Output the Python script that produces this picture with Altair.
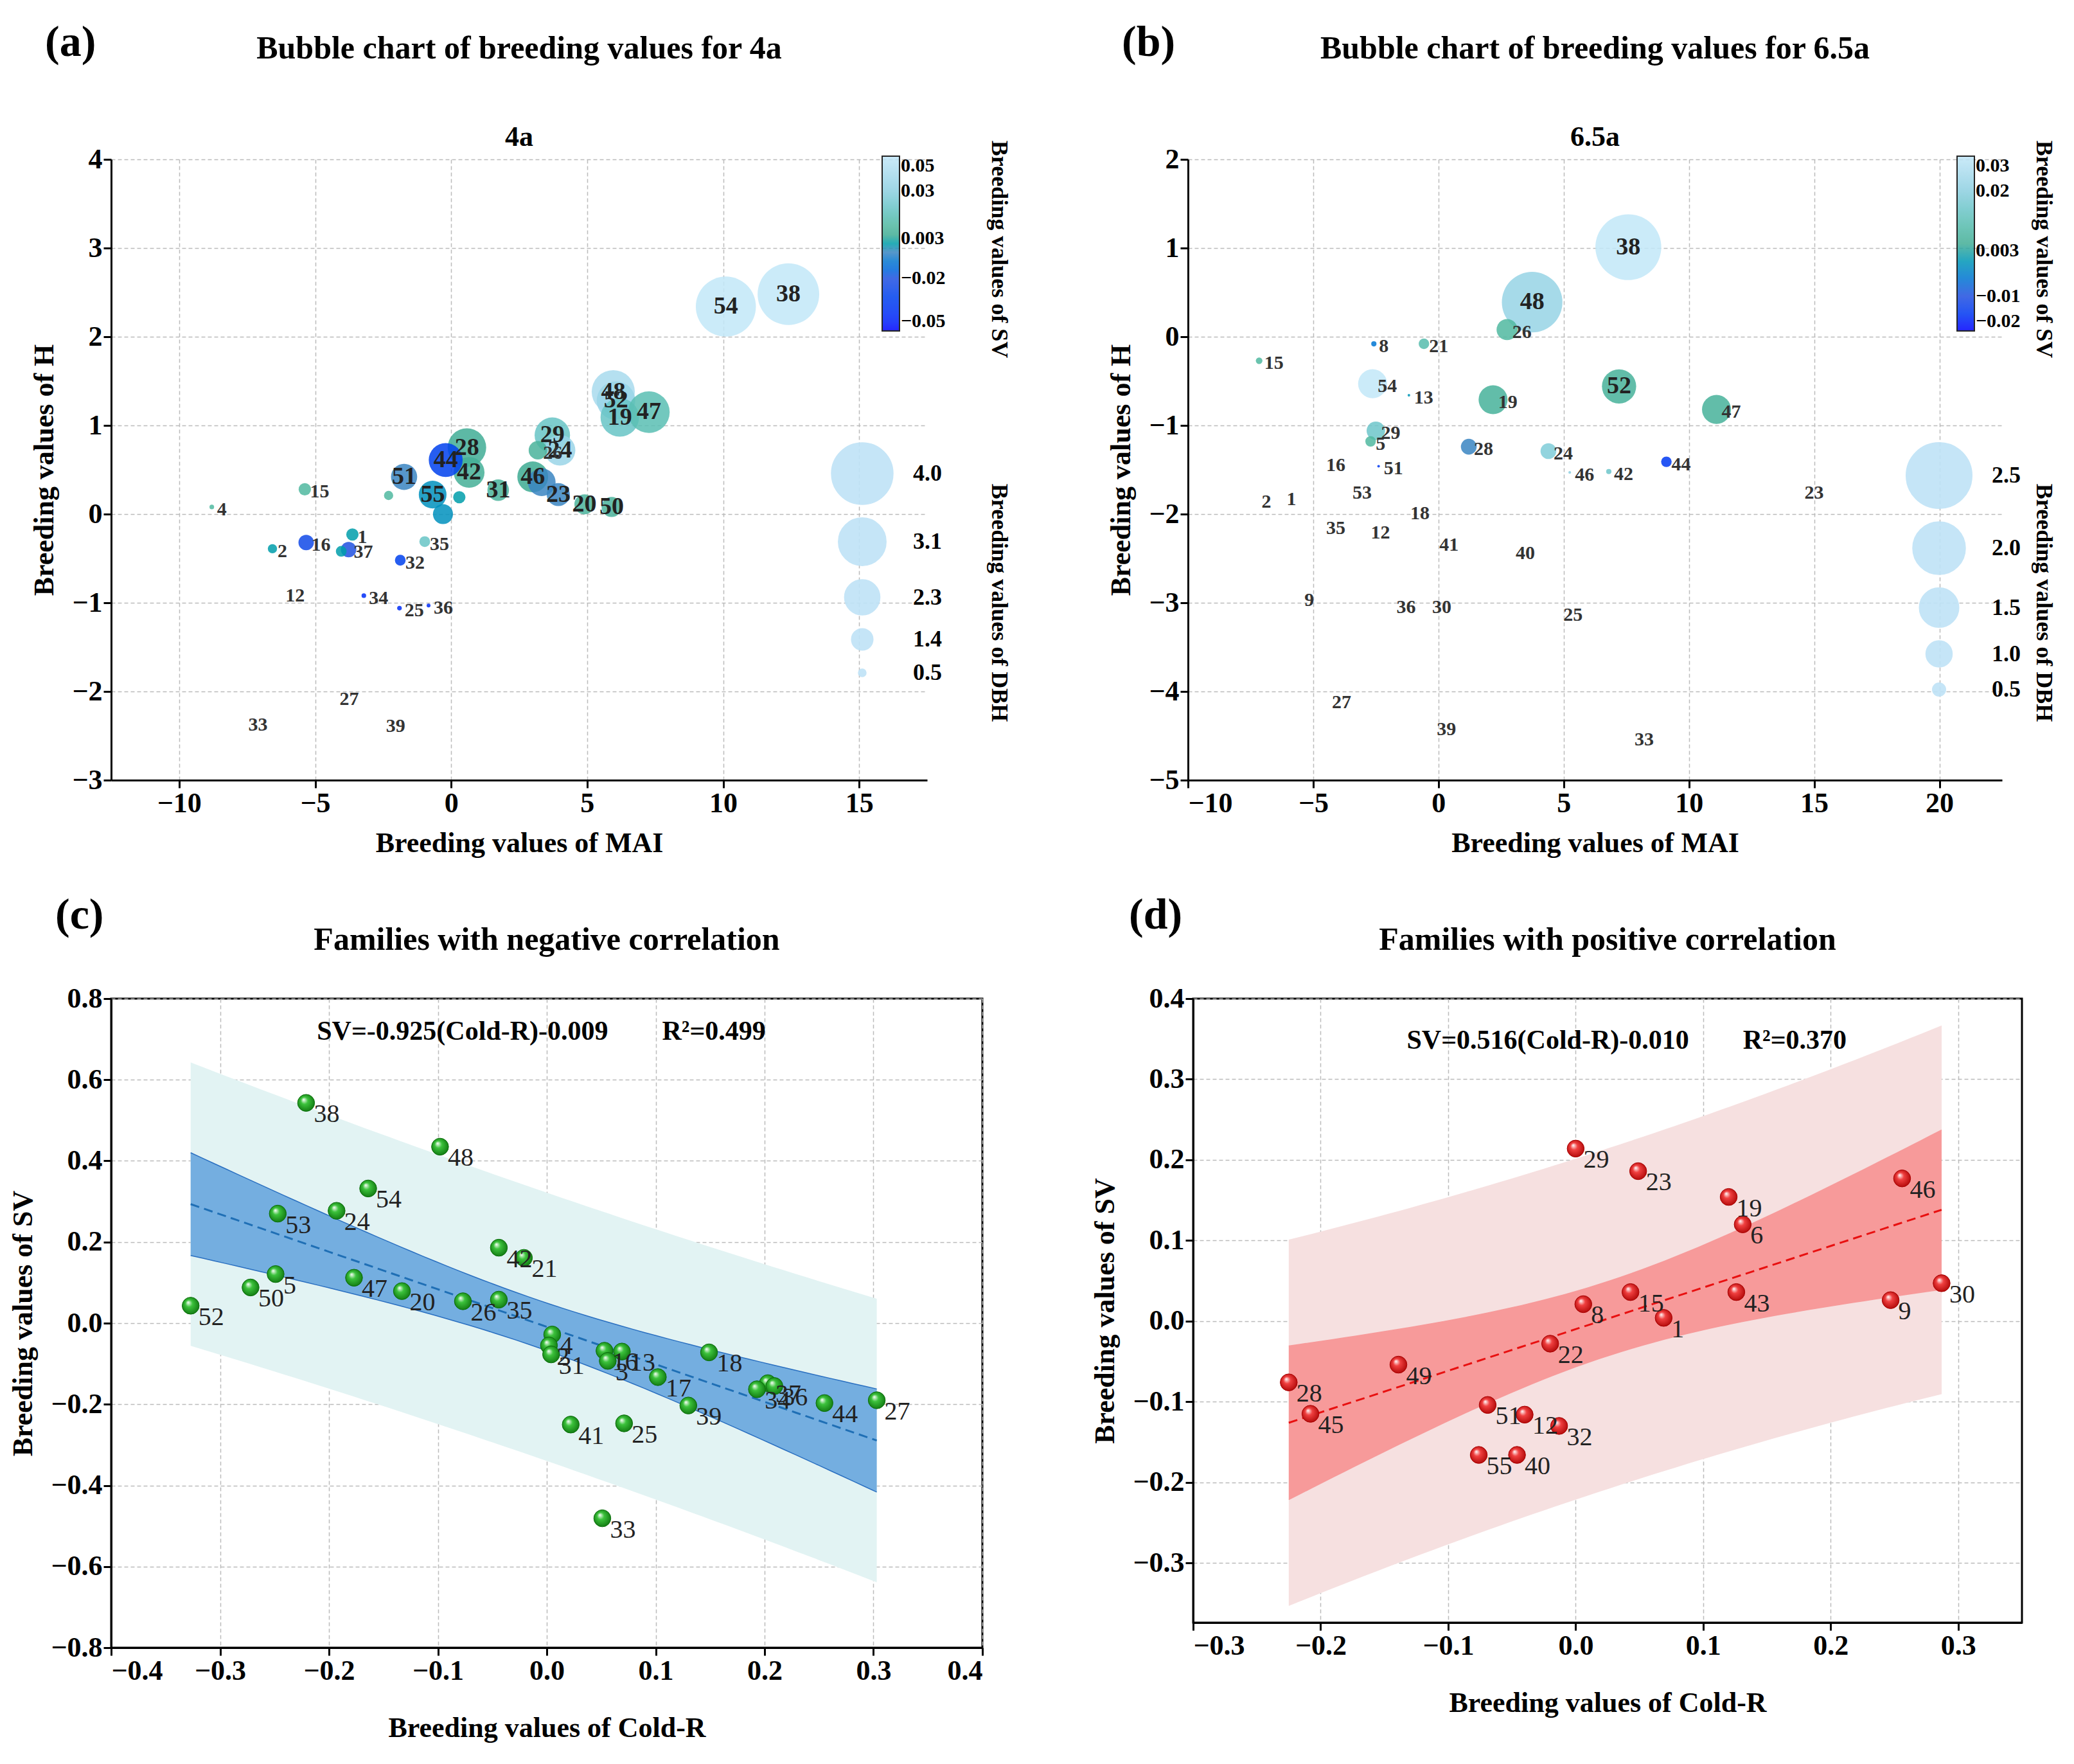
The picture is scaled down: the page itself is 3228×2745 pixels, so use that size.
import altair as alt
import pandas as pd
import numpy as np

FONT = "Liberation Serif"

# ---- (a) 4a bubble data ----
a_lab = ["54", "38", "48", "52", "19", "47", "29", "24", "26", "28", "42", "44", "51", "55", "", "", "",
         "31", "46", "", "23", "20", "50", "15", "4", "1", "35", "2", "16", "37", "", "32", "34", "25", "36",
         "12", "27", "33", "39"]
a_mai = [10.1, 12.4, 5.96, 6.06, 6.2, 7.27, 3.72, 4.0, 3.19, 0.58, 0.66, -0.2, -1.73, -0.68, -0.3, 0.3, -2.3,
         1.73, 3.0, 3.33, 3.94, 4.9, 5.9, -5.38, -8.8, -3.63, -0.97, -6.57, -5.33, -3.77, -4.04, -1.87, -3.21, -1.9, -0.83,
         -5.74, -3.75, -7.1, -2.04]
a_h = [2.34, 2.48, 1.38, 1.28, 1.09, 1.15, 0.89, 0.72, 0.72, 0.75, 0.47, 0.61, 0.42, 0.22, 0.0, 0.19, 0.21,
       0.27, 0.42, 0.36, 0.22, 0.11, 0.08, 0.28, 0.08, -0.23, -0.31, -0.39, -0.32, -0.4, -0.42, -0.52, -0.92, -1.06, -1.03,
       -0.92, -2.09, -2.38, -2.39]
a_dbh = [3.9, 4.0, 2.8, 2.5, 2.5, 2.7, 2.3, 2.0, 1.2, 2.5, 2.0, 2.2, 1.7, 1.8, 1.3, 0.8, 0.6,
         1.4, 2.0, 1.8, 1.5, 1.3, 1.3, 0.8, 0.3, 0.8, 0.7, 0.6, 1.0, 1.0, 0.7, 0.7, 0.3, 0.3, 0.25,
         0, 0, 0, 0]
a_sv = [0.05, 0.05, 0.04, 0.035, 0.02, 0.015, 0.02, 0.035, 0.008, 0.005, 0.006, -0.03, -0.005, -0.003, -0.003, 0.0, 0.01,
        0.008, 0.004, -0.005, -0.005, 0.008, 0.008, 0.01, 0.01, 0.0, 0.02, 0.0, -0.025, -0.02, 0.0, -0.03, -0.04, -0.04, -0.04,
        0, 0, 0, 0]

# ---- (b) 6.5a bubble data ----
b_lab = ["38", "48", "26", "8", "21", "15", "54", "13", "19", "52", "47", "29", "5", "28", "24", "44", "51",
         "46", "42", "16", "23", "2", "1", "53", "18", "35", "12", "41", "40", "9", "36", "30", "25", "27", "39", "33"]
b_mai = [7.58, 3.74, 2.74, -2.58, -0.58, -7.16, -2.63, -1.18, 2.18, 7.21, 11.1, -2.5, -2.71, 1.21, 4.39, 9.1, -2.39,
         5.24, 6.8, -4.1, 15.0, -6.87, -5.87, -3.05, -0.74, -4.1, -2.32, 0.42, 3.47, -5.16, -1.29, 0.13, 5.37, -3.87, 0.32, 8.21]
b_h = [1.01, 0.39, 0.08, -0.08, -0.08, -0.27, -0.53, -0.66, -0.71, -0.56, -0.82, -1.06, -1.18, -1.24, -1.29, -1.41, -1.46,
       -1.53, -1.52, -1.45, -1.76, -1.86, -1.83, -1.76, -1.99, -2.16, -2.21, -2.35, -2.44, -2.97, -3.05, -3.05, -3.14, -4.12, -4.43, -4.54]
b_dbh = [2.5, 2.3, 0.8, 0.2, 0.4, 0.25, 1.1, 0.1, 1.1, 1.3, 1.1, 0.7, 0.4, 0.6, 0.6, 0.4, 0.1,
         0.1, 0.2, 0, 0, 0, 0, 0, 0, 0, 0, 0, 0, 0, 0, 0, 0, 0, 0, 0]
b_sv = [0.03, 0.022, 0.008, -0.005, 0.01, 0.008, 0.03, 0.0, 0.006, 0.006, 0.006, 0.015, 0.008, -0.002, 0.018, -0.015, -0.015,
        0.02, 0.015, 0, 0, 0, 0, 0, 0, 0, 0, 0, 0, 0, 0, 0, 0, 0, 0, 0]

# ---- (c) negative correlation ----
c_lab = ["38", "48", "54", "53", "24", "42", "21", "5", "50", "52", "47", "20", "26", "35", "4", "2", "31", "16",
         "3", "13", "17", "18", "37", "36", "34", "39", "44", "27", "41", "25", "33"]
c_x = [-0.221, -0.098, -0.164, -0.247, -0.193, -0.044, -0.021, -0.249, -0.272, -0.327, -0.177, -0.133, -0.077, -0.044,
       0.005, 0.002, 0.004, 0.053, 0.056, 0.069, 0.102, 0.149, 0.203, 0.209, 0.193, 0.13, 0.255, 0.303, 0.022, 0.071, 0.051]
c_y = [0.543, 0.435, 0.332, 0.27, 0.277, 0.186, 0.161, 0.121, 0.088, 0.043, 0.112, 0.079, 0.054, 0.058,
       -0.028, -0.055, -0.077, -0.068, -0.093, -0.07, -0.133, -0.072, -0.148, -0.155, -0.163, -0.203, -0.197, -0.19, -0.25, -0.247, -0.481]

# ---- (d) positive correlation ----
d_lab = ["29", "23", "19", "6", "46", "30", "9", "43", "15", "8", "1", "22", "49", "28", "45", "51", "12", "32", "55", "40"]
d_x = [0.0, 0.049, 0.12, 0.131, 0.256, 0.287, 0.247, 0.126, 0.043, 0.006, 0.069, -0.02, -0.139, -0.225, -0.208,
       -0.069, -0.04, -0.013, -0.076, -0.046]
d_y = [0.214, 0.186, 0.154, 0.12, 0.177, 0.047, 0.026, 0.036, 0.036, 0.021, 0.004, -0.028, -0.054, -0.076, -0.115,
       -0.104, -0.116, -0.13, -0.166, -0.166]


def header(W, letter, lx, ly, title, ty, sub=None, sy=0):
    rows = [{"t": letter, "x": lx, "y": ly, "s": 68, "a": "left", "b": "top"},
            {"t": title, "x": W / 2, "y": ty, "s": 50, "a": "center", "b": "middle"}]
    if sub:
        rows.append({"t": sub, "x": W / 2, "y": sy, "s": 44, "a": "center", "b": "middle"})
    out = []
    for r in rows:
        out.append(alt.Chart(pd.DataFrame({"t": [r["t"]]})).mark_text(
            font=FONT, fontWeight="bold", fontSize=r["s"], align=r["a"], baseline=r["b"], color="black"
        ).encode(x=alt.value(r["x"]), y=alt.value(r["y"]), text="t:N"))
    return out


def bubble(lab, mx, hh, dbh, sv, title, sub, letter, xdom, ydom, xt, yt,
           cdom, crange, cvals, sdom, smax, svals, W, side_dx):
    df = pd.DataFrame({"lab": lab, "MAI": mx, "H": hh, "DBH": dbh, "SV": sv})
    H = 966
    x = alt.X("MAI:Q", scale=alt.Scale(domain=xdom, nice=False),
              axis=alt.Axis(values=xt, title="Breeding values of MAI", titlePadding=18))
    y = alt.Y("H:Q", scale=alt.Scale(domain=ydom, nice=False),
              axis=alt.Axis(values=yt, title="Breeding values of  H", titlePadding=20))
    pts = alt.Chart(df).transform_filter("datum.DBH > 0").mark_circle(opacity=0.85).encode(
        x=x, y=y,
        size=alt.Size("DBH:Q", scale=alt.Scale(type="pow", exponent=2, domain=sdom, range=[0, smax]),
                      legend=alt.Legend(values=svals, orient="none", legendX=W - 150, legendY=440, title=None,
                                        symbolFillColor="#bfe3f7", symbolStrokeColor="#bfe3f7", symbolOpacity=0.9,
                                        labelFontSize=36, labelFont=FONT, labelFontWeight="bold", labelOffset=30,
                                        rowPadding=14, symbolType="circle", format=".1f")),
        color=alt.Color("SV:Q", scale=alt.Scale(domain=cdom, range=crange),
                        legend=alt.Legend(values=cvals, orient="none", legendX=W - 70, legendY=-5, title=None,
                                          gradientLength=272, gradientThickness=27, direction="vertical",
                                          labelFontSize=30, labelFont=FONT, labelFontWeight="bold",
                                          gradientStrokeColor="black", gradientStrokeWidth=2, format=".3~f")),
    )
    big = alt.Chart(df).transform_filter("datum.DBH >= 1.3").mark_text(
        font=FONT, fontWeight="bold", fontSize=38, color="#222").encode(x=x, y=y, text="lab:N")
    small = alt.Chart(df).transform_filter("datum.DBH < 1.3 && datum.DBH > 0").mark_text(
        font=FONT, fontWeight="bold", fontSize=30, color="#333", align="left", dx=8, dy=4).encode(x=x, y=y, text="lab:N")
    none = alt.Chart(df).transform_filter("datum.DBH == 0").mark_text(
        font=FONT, fontWeight="bold", fontSize=30, color="#333").encode(x=x, y=y, text="lab:N")
    ttl = pd.DataFrame({"t": ["Breeding values of SV", "Breeding values of DBH"], "y": [140, 690]})
    side = alt.Chart(ttl).mark_text(font=FONT, fontWeight="bold", fontSize=36, angle=90).encode(
        x=alt.value(W + side_dx), y=alt.Y("y:Q", scale=None), text="t:N")
    heads = header(W, letter, -103, -215, title, -172, sub, -34)
    return alt.layer(pts, big, small, none, side, *heads).properties(width=W, height=H)


def regress(lab, xs, ys, slope, icpt, r2, tcrit, title, letter, xdom, ydom, xt, yt, W, H,
            pcol, lcol, inner, outer, eqx, eqy, edge, lx):
    xs = np.array(xs)
    ys = np.array(ys)
    n = len(xs)
    res = ys - (slope * xs + icpt)
    s = np.sqrt((res ** 2).sum() / (n - 2))
    xbar = xs.mean()
    sxx = ((xs - xbar) ** 2).sum()
    gx = np.linspace(xs.min(), xs.max(), 60)
    fit = slope * gx + icpt
    ch = tcrit * s * np.sqrt(1 / n + (gx - xbar) ** 2 / sxx)
    ph = tcrit * s * np.sqrt(1 + 1 / n + (gx - xbar) ** 2 / sxx)
    band = pd.DataFrame({"x": gx, "fit": fit, "clo": fit - ch, "chi": fit + ch, "plo": fit - ph, "phi": fit + ph})
    df = pd.DataFrame({"lab": lab, "x": xs, "y": ys})
    x = alt.X("x:Q", scale=alt.Scale(domain=xdom, nice=False),
              axis=alt.Axis(values=xt, format=".1f", title="Breeding values of Cold-R", titlePadding=45))
    y = alt.Y("y:Q", scale=alt.Scale(domain=ydom, nice=False),
              axis=alt.Axis(values=yt, format=".1f", title="Breeding values of SV", titlePadding=20))
    outer_a = alt.Chart(band).mark_area(color=outer, opacity=1).encode(x=x, y=alt.Y("plo:Q"), y2="phi:Q")
    inner_a = alt.Chart(band).mark_area(color=inner, opacity=1).encode(x=x, y=alt.Y("clo:Q"), y2="chi:Q")
    e1 = alt.Chart(band).mark_line(color=edge, strokeWidth=1.5).encode(x=x, y="clo:Q")
    e2 = alt.Chart(band).mark_line(color=edge, strokeWidth=1.5).encode(x=x, y="chi:Q")
    ln = alt.Chart(band).mark_line(color=lcol, strokeDash=[14, 8], strokeWidth=3).encode(x=x, y="fit:Q")
    grad = alt.RadialGradient(gradient="radial", x1=0.35, y1=0.3, r1=0, x2=0.5, y2=0.5, r2=0.6,
                              stops=[alt.GradientStop(offset=0, color="#ffffff"),
                                     alt.GradientStop(offset=0.35, color=pcol[0]),
                                     alt.GradientStop(offset=1, color=pcol[1])])
    pts = alt.Chart(df).mark_point(filled=True, size=700, fill=grad, stroke=pcol[1], strokeWidth=1,
                                   opacity=1, shape="circle").encode(x=x, y=y)
    txt = alt.Chart(df).mark_text(font=FONT, fontSize=40, align="left", dx=12, dy=18, color="#222").encode(
        x=x, y=y, text="lab:N")
    eq = alt.Chart(pd.DataFrame({"x": [eqx], "y": [eqy],
                                 "t": [title[1] + "\u00a0" * 8 + "R\u00b2=" + r2]})).mark_text(
        font=FONT, fontWeight="bold", fontSize=42).encode(x=x, y=y, text="t:N")
    heads = header(W, letter, lx, -163, title[0], -91)
    return alt.layer(outer_a, inner_a, e1, e2, ln, pts, txt, eq, *heads).properties(
        width=W, height=H, view=alt.ViewBackground(stroke="black", strokeWidth=3))


cfg_a = bubble(a_lab, a_mai, a_h, a_dbh, a_sv, "Bubble chart of breeding values for 4a", "4a", "(a)",
               [-12.5, 17.5], [-3, 4], [-10, -5, 0, 5, 10, 15], [-3, -2, -1, 0, 1, 2, 3, 4],
               [-0.05, -0.02, -0.005, 0.003, 0.01, 0.03, 0.05],
               ["#0000ff", "#2050e0", "#3a85c2", "#3aa890", "#50b8a0", "#8ccfe0", "#c2e7f8"],
               [0.05, 0.03, 0.003, -0.02, -0.05], [0, 4], 9200, [4.0, 3.1, 2.3, 1.4, 0.5], 1270, 112)
cfg_b = bubble(b_lab, b_mai, b_h, b_dbh, b_sv, "Bubble chart of breeding values for 6.5a", "6.5a", "(b)",
               [-10, 22.5], [-5, 2], [-10, -5, 0, 5, 10, 15, 20], [-5, -4, -3, -2, -1, 0, 1, 2],
               [-0.02, -0.01, -0.002, 0.003, 0.008, 0.02, 0.03],
               ["#0000ff", "#2050e0", "#3a85c2", "#3aa890", "#50b8a0", "#8ccfe0", "#c2e7f8"],
               [0.03, 0.02, 0.003, -0.01, -0.02], [0, 2.5], 10500, [2.5, 2.0, 1.5, 1.0, 0.5], 1267, 65)
cfg_c = regress(c_lab, c_x, c_y, -0.925, -0.009, "0.499", 2.04,
                ["Families with negative correlation", "SV=-0.925(Cold-R)-0.009"], "(c)",
                [-0.4, 0.4], [-0.8, 0.8], [-0.4, -0.3, -0.2, -0.1, 0.0, 0.1, 0.2, 0.3, 0.4],
                [-0.8, -0.6, -0.4, -0.2, 0.0, 0.2, 0.4, 0.6, 0.8], 1356, 1010,
                ["#3cc23c", "#0a6e0a"], "#1f6fb5", "#74aee0", "#e2f3f3", -0.005, 0.72, "#2a6fc0", -87)
cfg_d = regress(d_lab, d_x, d_y, 0.516, -0.010, "0.370", 2.10,
                ["Families with positive correlation", "SV=0.516(Cold-R)-0.010"], "(d)",
                [-0.3, 0.35], [-0.374, 0.4], [-0.3, -0.2, -0.1, 0.0, 0.1, 0.2, 0.3],
                [-0.3, -0.2, -0.1, 0.0, 0.1, 0.2, 0.3, 0.4], 1290, 971,
                ["#f04040", "#a80000"], "#e81010", "#f79a9a", "#f6e0e0", 0.04, 0.348, "#f79a9a", -100)

top = alt.hconcat(cfg_a, cfg_b, spacing=150).resolve_scale(color="independent", size="independent")
bottom = alt.hconcat(cfg_c, cfg_d, spacing=165)
chart = alt.vconcat(top, bottom, spacing=55).properties(
    padding={"top": 25, "left": 5, "right": 5, "bottom": 5}
).configure(font=FONT).configure_axis(
    labelFont=FONT, titleFont=FONT, labelFontSize=44, titleFontSize=44, labelFontWeight="bold",
    titleFontWeight="bold", labelColor="black", titleColor="black", domainColor="black", domainWidth=3,
    tickColor="black", tickWidth=3, tickSize=12, gridDash=[6, 4], gridColor="#bbbbbb", gridWidth=1.5,
).configure_view(stroke=None)

chart.save("out.html", embed_options={"renderer": "svg", "actions": False})
